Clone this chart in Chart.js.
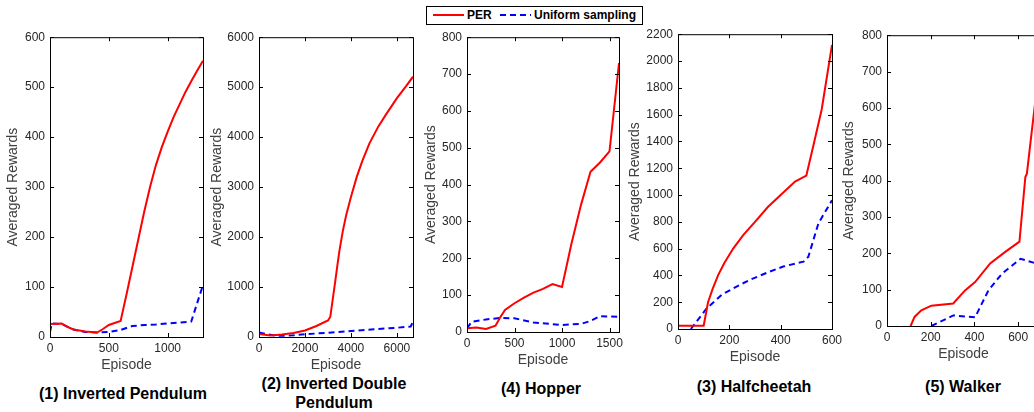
<!DOCTYPE html>
<html><head><meta charset="utf-8">
<script src="https://cdn.jsdelivr.net/npm/chart.js@4.4.1/dist/chart.umd.min.js"></script>
<style>
html,body{margin:0;padding:0;width:1034px;height:412px;overflow:hidden;background:#fff;font-family:"Liberation Sans",Arial,Helvetica,sans-serif;position:relative;}
canvas{position:absolute;}
.ttl{position:absolute;transform:translate(-50%,-50%);font-weight:bold;font-size:16px;color:#000;white-space:nowrap;text-align:center;line-height:19px;}
#legend{position:absolute;left:426px;top:6px;width:215px;height:17px;border:1px solid #000;background:#fff;font-weight:bold;font-size:12px;color:#000;}
#legend span{position:absolute;}
</style></head><body>

<div id="legend">
  <span style="left:6px;top:7px;width:31px;height:2px;background:#ff0000;"></span>
  <span style="left:40px;top:1px;line-height:15px;">PER</span>
  <span style="left:73px;top:7px;width:31px;height:2px;background:repeating-linear-gradient(90deg,#0000ff 0 6px,transparent 6px 10px);"></span>
  <span style="left:107px;top:1px;line-height:15px;">Uniform sampling</span>
</div>

<div class="ttl" style="left:123px;top:393px;">(1) Inverted Pendulum</div>
<div class="ttl" style="left:334px;top:393px;">(2) Inverted Double<br>Pendulum</div>
<div class="ttl" style="left:541px;top:388px;">(4) Hopper</div>
<div class="ttl" style="left:754px;top:386px;">(3) Halfcheetah</div>
<div class="ttl" style="left:963px;top:386px;">(5) Walker</div>

<script>
// ---------- Data ----------
// (1) Inverted Pendulum
const pendTicksX = [0, 500, 1000];
const pendTicksY = [0, 100, 200, 300, 400, 500, 600];
const pendPerX = [0,100,150,200,300,400,450,500,600,650,700,750,800,850,900,950,1000,1050,1100,1150,1200,1250,1300];
const pendPerY = [26,27,20,15,11,9,16,24,32,85,140,195,250,300,344,380,411,440,465,490,512,533,553];
const pendUniX = [0,15,100,200,300,400,500,600,700,800,900,1000,1100,1200,1300];
const pendUniY = [10,27,26,15,10,9,10,14,22,24,25,27,29,31,104];

// (2) Inverted Double Pendulum
const dblTicksX = [0, 2000, 4000, 6000];
const dblTicksY = [0, 1000, 2000, 3000, 4000, 5000, 6000];
const dblPerX = [0,500,1000,1500,2000,2500,3000,3100,3200,3300,3400,3500,3650,3800,4000,4250,4500,4800,5200,5550,6000,6400,6700];
const dblPerY = [60,30,50,80,130,220,330,400,730,1060,1400,1730,2130,2450,2800,3200,3530,3870,4220,4470,4780,5020,5210];
const dblUniX = [0,300,700,1000,1500,2000,3000,4000,5000,6000,6600,6700];
const dblUniY = [93,60,30,25,35,55,85,120,155,185,210,310];

// (4) Hopper
const hopTicksX = [0, 500, 1000, 1500];
const hopTicksY = [0, 100, 200, 300, 400, 500, 600, 700, 800];
const hopPerX = [0,100,200,300,350,400,500,600,700,800,900,1000,1100,1200,1300,1400,1500,1600];
const hopPerY = [10,12,8,17,40,60,78,93,107,117,130,122,240,345,435,460,490,730];
const hopUniX = [0,50,200,350,500,700,1000,1200,1300,1400,1600];
const hopUniY = [10,28,34,38,37,26,19,22,30,43,41];

// (3) Halfcheetah
const cheTicksX = [0, 200, 400, 600];
const cheTicksY = [0,200,400,600,800,1000,1200,1400,1600,1800,2000,2200];
const chePerX = [0,100,117,135,156,180,215,254,300,350,400,456,500,530,560,600];
const chePerY = [25,25,200,300,400,490,600,700,800,910,1000,1100,1145,1390,1640,2120];
const cheUniX = [50,110,170,228,280,358,410,489,508,547,600];
const cheUniY = [0,150,255,317,367,429,466,503,540,788,961];

// (5) Walker
const walTicksX = [0, 200, 400, 600];
const walTicksY = [0, 100, 200, 300, 400, 500, 600, 700, 800];
const walPerX = [108,126,157,203,303,357,403,472,541,606,633,640,663,681,700];
const walPerY = [0,25,43,56,62,98,121,172,204,232,410,419,539,630,700];
const walUniX = [203,303,403,464,526,611,683,700];
const walUniY = [0,29,24,98,144,185,172,170];

// ---------- Rendering ----------
Chart.defaults.font.family = "'Liberation Sans', Arial, Helvetica, sans-serif";
Chart.defaults.font.size = 12;
Chart.defaults.color = '#262626';

const boxPlugin = {
  id: 'matlabBox',
  afterDatasetsDraw(chart) {
    const {ctx, chartArea: {left, top, right, bottom}, scales: {x, y}} = chart;
    ctx.save();
    ctx.strokeStyle = '#000';
    ctx.lineWidth = 1;
    const tl = 4;
    ctx.beginPath();
    x.ticks.forEach(t => {
      const px = Math.round(x.getPixelForValue(t.value)) + 0.5;
      if (px < left || px > right + 1) return;
      ctx.moveTo(px, bottom); ctx.lineTo(px, bottom - tl);
      ctx.moveTo(px, top); ctx.lineTo(px, top + tl);
    });
    y.ticks.forEach(t => {
      const py = Math.round(y.getPixelForValue(t.value)) + 0.5;
      ctx.moveTo(left, py); ctx.lineTo(left + tl, py);
      ctx.moveTo(right, py); ctx.lineTo(right - tl, py);
    });
    ctx.stroke();
    ctx.strokeRect(left + 0.5, top + 0.5, right - left, bottom - top);
    ctx.restore();
  }
};

function pts(xs, ys) { return xs.map((v, i) => ({x: v, y: ys[i]})); }
const plain = v => String(v);

function build(pos, xMax, xTicks, yMax, yTicks, perX, perY, uniX, uniY, yTitleOffset) {
  const c = document.createElement('canvas');
  const cw = pos.w + 80, ch = pos.h + 57;
  c.width = cw; c.height = ch;
  c.style.left = (pos.l - 60) + 'px';
  c.style.top = (pos.t - 12) + 'px';
  c.style.width = cw + 'px'; c.style.height = ch + 'px';
  document.body.appendChild(c);
  new Chart(c, {
    type: 'line',
    data: {
      datasets: [
        {label: 'PER', data: pts(perX, perY), borderColor: '#ff0000', borderWidth: 2, pointRadius: 0, fill: false, tension: 0},
        {label: 'Uniform sampling', data: pts(uniX, uniY), borderColor: '#0000ff', borderWidth: 2, borderDash: [6, 4], pointRadius: 0, fill: false, tension: 0}
      ]
    },
    options: {
      responsive: false, animation: false, events: [],
      layout: {padding: {left: 0, top: 12, right: 20, bottom: 0}},
      plugins: {legend: {display: false}, tooltip: {enabled: false}},
      scales: {
        x: {
          type: 'linear', min: 0, max: xMax,
          afterBuildTicks: s => { s.ticks = xTicks.map(v => ({value: v})); },
          afterFit: s => { s.height = 45; },
          grid: {display: false, drawTicks: false}, border: {display: false},
          ticks: {padding: 4, maxRotation: 0, minRotation: 0, autoSkip: false, color: '#262626', font: {size: 12}, callback: plain},
          title: {display: true, text: 'Episode', color: '#404040', font: {size: 14}, padding: {top: 0, bottom: 8}}
        },
        y: {
          type: 'linear', min: 0, max: yMax,
          afterBuildTicks: s => { s.ticks = yTicks.map(v => ({value: v})); },
          afterFit: s => { s.width = 60; },
          grid: {display: false, drawTicks: false}, border: {display: false},
          ticks: {padding: 5, autoSkip: false, color: '#262626', font: {size: 12}, callback: plain},
          title: {display: true, text: 'Averaged Rewards', color: '#404040', font: {size: 14}, padding: {top: 51.6 - yTitleOffset, bottom: 0}}
        }
      }
    },
    plugins: [boxPlugin]
  });
}

build({l: 50, t: 37, w: 153, h: 300}, 1300, pendTicksX, 600, pendTicksY, pendPerX, pendPerY, pendUniX, pendUniY, 36.5);
build({l: 259, t: 37, w: 154, h: 300}, 6700, dblTicksX, 6000, dblTicksY, dblPerX, dblPerY, dblUniX, dblUniY, 42);
build({l: 467, t: 37, w: 152, h: 295}, 1600, hopTicksX, 800, hopTicksY, hopPerX, hopPerY, hopUniX, hopUniY, 36);
build({l: 678, t: 34, w: 154, h: 295}, 600, cheTicksX, 2200, cheTicksY, chePerX, chePerY, cheUniX, cheUniY, 43);
build({l: 887, t: 35, w: 153, h: 291}, 700, walTicksX, 800, walTicksY, walPerX, walPerY, walUniX, walUniY, 37.4);
</script>
</body></html>
